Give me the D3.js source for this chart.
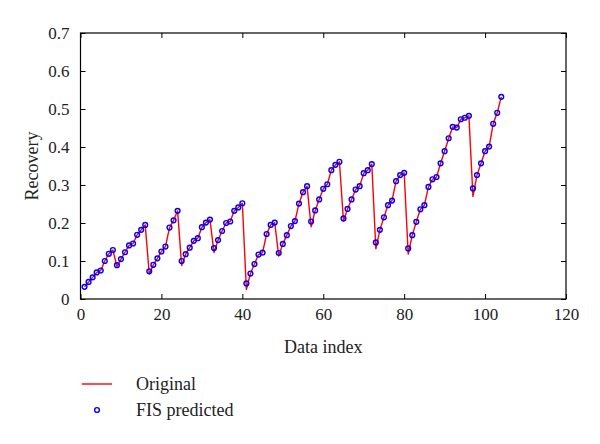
<!DOCTYPE html>
<html>
<head>
<meta charset="utf-8">
<script src="https://cdn.jsdelivr.net/npm/d3@7"></script>
<style>
  body { margin: 0; background: #fff; }
  svg, svg text { font-family: "Liberation Serif", "DejaVu Serif", serif; }
</style>
</head>
<body>
<div id="chart"></div>
<script>
// FIS predicted recovery, one value per data index (1..104)
const predicted = [
  0.032, 0.045, 0.057, 0.070, 0.075, 0.100, 0.119, 0.129, 0.089, 0.105,
  0.123, 0.141, 0.146, 0.169, 0.182, 0.195, 0.073, 0.090, 0.107, 0.125,
  0.138, 0.188, 0.207, 0.232, 0.100, 0.118, 0.135, 0.153, 0.160, 0.189,
  0.201, 0.209, 0.134, 0.155, 0.179, 0.200, 0.204, 0.232, 0.241, 0.252,
  0.041, 0.067, 0.092, 0.117, 0.122, 0.171, 0.195, 0.201, 0.121, 0.145,
  0.168, 0.192, 0.205, 0.251, 0.281, 0.297, 0.204, 0.233, 0.262, 0.290,
  0.302, 0.339, 0.353, 0.361, 0.212, 0.237, 0.262, 0.288, 0.297, 0.331,
  0.339, 0.355, 0.149, 0.182, 0.215, 0.247, 0.259, 0.310, 0.326, 0.332,
  0.133, 0.168, 0.203, 0.236, 0.247, 0.295, 0.315, 0.321, 0.357, 0.389,
  0.423, 0.453, 0.451, 0.473, 0.477, 0.482, 0.291, 0.326, 0.357, 0.389,
  0.401, 0.461, 0.490, 0.532
];

// Original recovery (same as predicted except a little lower at the troughs)
const original = [
  0.032, 0.045, 0.057, 0.070, 0.075, 0.100, 0.119, 0.129, 0.086, 0.105,
  0.123, 0.141, 0.146, 0.169, 0.182, 0.195, 0.065, 0.090, 0.107, 0.125,
  0.138, 0.188, 0.207, 0.232, 0.088, 0.118, 0.135, 0.153, 0.160, 0.189,
  0.201, 0.209, 0.122, 0.155, 0.179, 0.200, 0.204, 0.232, 0.241, 0.252,
  0.025, 0.067, 0.092, 0.117, 0.122, 0.171, 0.195, 0.201, 0.113, 0.145,
  0.168, 0.192, 0.205, 0.251, 0.281, 0.297, 0.190, 0.233, 0.262, 0.290,
  0.302, 0.339, 0.353, 0.361, 0.205, 0.237, 0.262, 0.288, 0.297, 0.331,
  0.339, 0.355, 0.132, 0.182, 0.215, 0.247, 0.259, 0.310, 0.326, 0.332,
  0.118, 0.168, 0.203, 0.236, 0.247, 0.295, 0.315, 0.321, 0.357, 0.389,
  0.423, 0.453, 0.451, 0.473, 0.477, 0.482, 0.270, 0.326, 0.357, 0.389,
  0.401, 0.461, 0.490, 0.532
];

const xTicks = [0, 20, 40, 60, 80, 100, 120];
const yTicks = [0, 0.1, 0.2, 0.3, 0.4, 0.5, 0.6, 0.7];
const legendLabels = ["Original", "FIS predicted"];

const width = 600;
const height = 444;
const marginLeft = 80.5;
const marginRight = 34;
const marginTop = 33;
const marginBottom = 145;
const serif = "'Liberation Serif', 'DejaVu Serif', serif";

const x = d3.scaleLinear()
  .domain([0, 120])
  .range([marginLeft, width - marginRight]);

const y = d3.scaleLinear()
  .domain([0, 0.7])
  .range([height - marginBottom, marginTop]);

const svg = d3.select("#chart")
  .append("svg")
  .attr("width", width)
  .attr("height", height)
  .attr("viewBox", [0, 0, width, height]);

const tickLen = 5;

// Bottom axis
svg.append("g")
  .attr("transform", `translate(0,${y(0)})`)
  .call(d3.axisBottom(x).tickValues(xTicks).tickSizeInner(-tickLen).tickSizeOuter(0).tickPadding(9).tickFormat(d3.format("d")))
  .call(g => g.select(".domain").remove())
  .call(g => g.selectAll("text").attr("fill", "#222").style("font-family", serif).style("font-size", "17px"));

// Top ticks
svg.append("g")
  .attr("transform", `translate(0,${y(0.7)})`)
  .call(d3.axisTop(x).tickValues(xTicks).tickSizeInner(-tickLen).tickSizeOuter(0).tickFormat(""))
  .call(g => g.select(".domain").remove());

// Left axis
svg.append("g")
  .attr("transform", `translate(${x(0)},0)`)
  .call(d3.axisLeft(y).tickValues(yTicks).tickSizeInner(-tickLen).tickSizeOuter(0).tickPadding(11).tickFormat(d => d === 0 ? "0" : d3.format(".1f")(d)))
  .call(g => g.select(".domain").remove())
  .call(g => g.selectAll("text").attr("fill", "#222").style("font-family", serif).style("font-size", "17px"));

// Right ticks
svg.append("g")
  .attr("transform", `translate(${x(120)},0)`)
  .call(d3.axisRight(y).tickValues(yTicks).tickSizeInner(-tickLen).tickSizeOuter(0).tickFormat(""))
  .call(g => g.select(".domain").remove());

// Box
svg.append("rect")
  .attr("x", x(0))
  .attr("y", y(0.7))
  .attr("width", x(120) - x(0))
  .attr("height", y(0) - y(0.7))
  .attr("fill", "none")
  .attr("stroke", "#000")
  .attr("stroke-width", 1.2);

// Axis labels
svg.append("text")
  .attr("x", (x(0) + x(120)) / 2)
  .attr("y", 353)
  .attr("text-anchor", "middle")
  .style("font-size", "18px")
  .attr("fill", "#222")
  .text("Data index");

svg.append("text")
  .attr("transform", `translate(38,${(y(0) + y(0.7)) / 2}) rotate(-90)`)
  .attr("text-anchor", "middle")
  .style("font-size", "18px")
  .attr("fill", "#222")
  .text("Recovery");

// Original line
const line = d3.line()
  .x((d, i) => x(i + 1))
  .y(d => y(d));

svg.append("path")
  .datum(original)
  .attr("fill", "none")
  .attr("stroke", "#ff0000")
  .attr("stroke-width", 1.4)
  .attr("stroke-linejoin", "round")
  .attr("d", line);

// FIS predicted markers
svg.append("g")
  .selectAll("circle")
  .data(predicted)
  .join("circle")
    .attr("cx", (d, i) => x(i + 1))
    .attr("cy", d => y(d))
    .attr("r", 2.4)
    .attr("fill", "none")
    .attr("stroke", "#0000ff")
    .attr("stroke-width", 1.4);

// Legend
const legend = svg.append("g");

legend.append("line")
  .attr("x1", 82).attr("x2", 112)
  .attr("y1", 384).attr("y2", 384)
  .attr("stroke", "#ff0000")
  .attr("stroke-width", 1.4);

legend.append("circle")
  .attr("cx", 97).attr("cy", 410)
  .attr("r", 2.4)
  .attr("fill", "none")
  .attr("stroke", "#0000ff")
  .attr("stroke-width", 1.4);

legend.selectAll("text")
  .data(legendLabels)
  .join("text")
    .attr("x", 136)
    .attr("y", (d, i) => 390 + i * 26)
    .style("font-size", "18px")
    .attr("fill", "#222")
    .text(d => d);
</script>
</body>
</html>
